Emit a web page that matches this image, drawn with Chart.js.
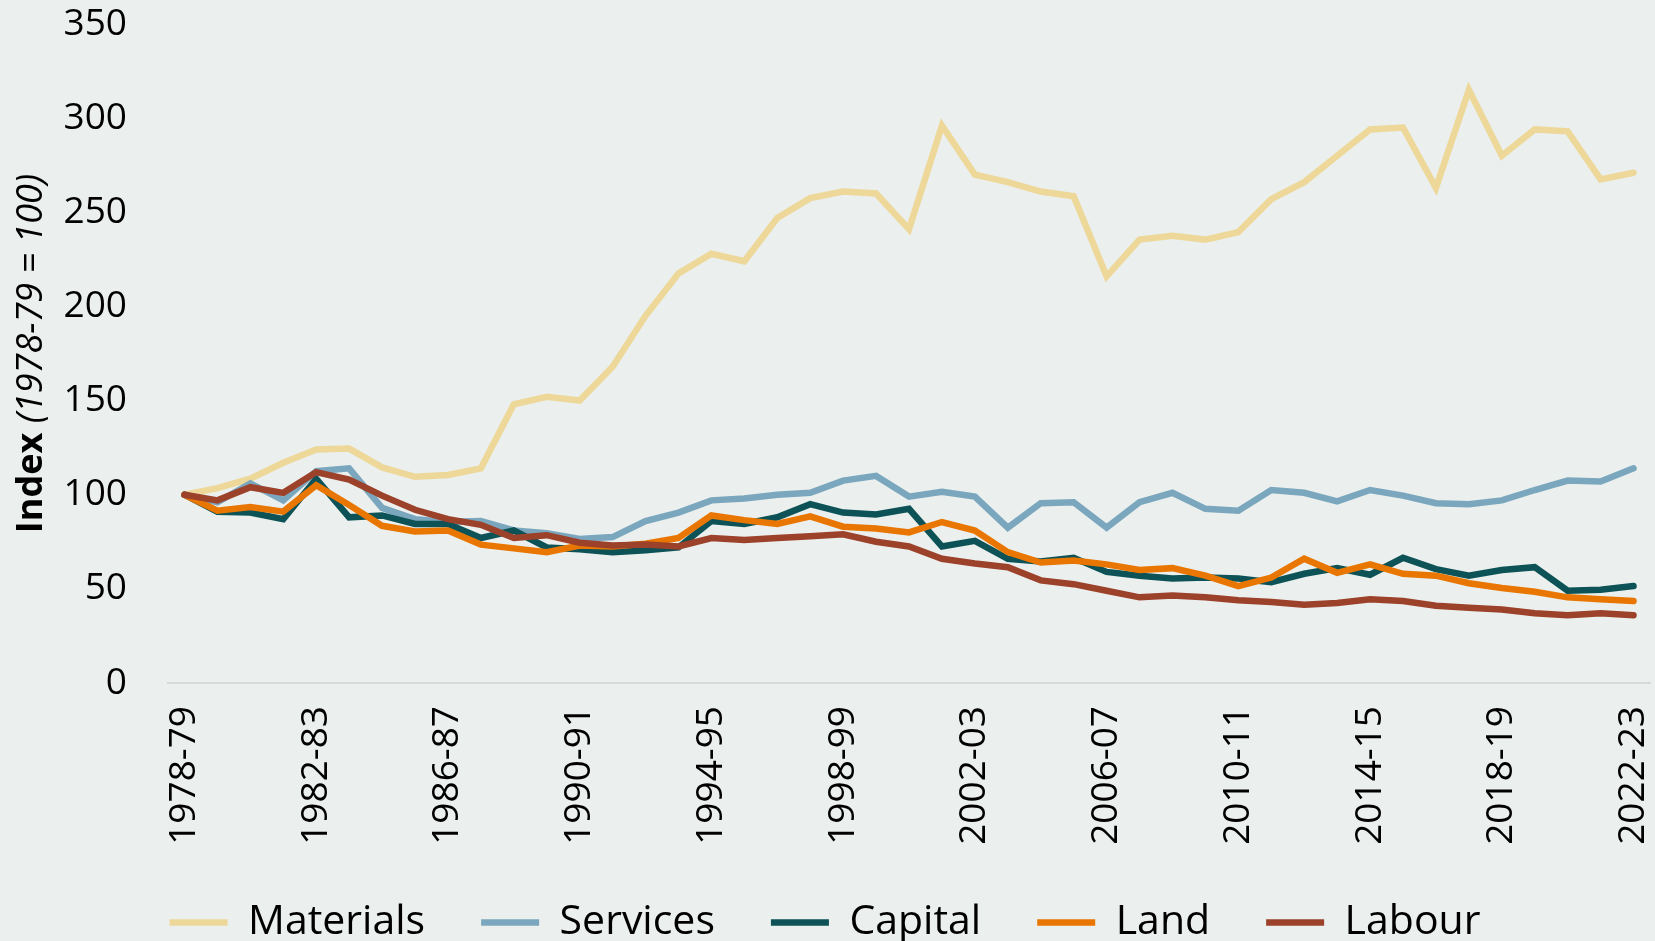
<!DOCTYPE html>
<html>
<head>
<meta charset="utf-8">
<script src="https://cdn.jsdelivr.net/npm/chart.js@4/dist/chart.umd.min.js"></script>
<style>
  html, body { margin: 0; padding: 0; background: #EBEFED; }
  #chart { display: block; }
</style>
</head>
<body>
<canvas id="chart" width="1655" height="941"></canvas>
<script>
const years = ['1978-79', '1979-80', '1980-81', '1981-82', '1982-83', '1983-84', '1984-85', '1985-86',
  '1986-87', '1987-88', '1988-89', '1989-90', '1990-91', '1991-92', '1992-93', '1993-94', '1994-95',
  '1995-96', '1996-97', '1997-98', '1998-99', '1999-00', '2000-01', '2001-02', '2002-03', '2003-04',
  '2004-05', '2005-06', '2006-07', '2007-08', '2008-09', '2009-10', '2010-11', '2011-12', '2012-13',
  '2013-14', '2014-15', '2015-16', '2016-17', '2017-18', '2018-19', '2019-20', '2020-21', '2021-22', '2022-23'];

const materials = [100, 103.5, 108.5, 117, 124, 124.5, 114.5, 109.5, 110.5, 114, 148, 152, 150, 168, 195,
  217.5, 228, 224, 247, 257.5, 261, 260, 241, 296, 270, 266, 261, 258.5, 216, 235.5, 237.5, 235.5, 239.5,
  257, 266, 280, 294, 295, 263, 315, 280, 294, 293, 267.5, 271];
const services = [100, 96, 106, 97, 112.5, 114, 93, 87, 85.5, 86, 81, 79.5, 76.5, 77.5, 86, 90.5, 97, 98,
  100, 101, 107.5, 110, 99, 101.5, 99, 82.5, 95.5, 96, 82.5, 96, 101, 92.5, 91.5, 102.5, 101, 96.5, 102.5,
  99.5, 95.5, 95, 97, 102.5, 107.5, 107, 114];
const capital = [100, 91, 90.5, 87, 108.5, 88, 89, 84.5, 84.5, 77, 81, 72, 71, 69.5, 70.5, 72, 86, 84.5, 88,
  95, 90.5, 89.5, 92.5, 72.5, 75.5, 66, 64.5, 66.5, 59, 57, 55.5, 56, 55.5, 53.5, 58, 61, 57.5, 66.5, 60.5,
  57, 60, 61.5, 49, 49.5, 51.5];
const land = [100, 91.5, 93.5, 91, 105, 94.5, 83.5, 80.5, 81, 73.5, 71.5, 69.5, 73, 72.5, 74, 77, 89, 86.5,
  84.5, 88.5, 83, 82, 80, 85.5, 81, 69.5, 64, 65, 63, 60, 61, 57, 51.5, 56, 66, 58.5, 63, 58, 57, 53, 50.5,
  48.5, 45.5, 44.5, 43.5];
const labour = [100, 97, 104, 101, 112, 108, 99.5, 92, 87, 84, 77, 78.5, 74.5, 73, 73.5, 72.5, 77, 76, 77, 78,
  79, 75, 72.5, 66, 63.5, 61.5, 54.5, 52.5, 49, 45.5, 46.5, 45.5, 44, 43, 41.5, 42.5, 44.5, 43.5, 41, 40, 39,
  37, 36, 37, 36];

const yTicks = [0, 50, 100, 150, 200, 250, 300, 350];

const FONT = '"Open Sans", "Noto Sans", sans-serif';

// y axis title: "Index" bold, the rest italic, like the original
const yTitle = {
  id: 'yTitle',
  afterDraw(chart) {
    const { ctx, chartArea } = chart;
    const bold = 'Index ';
    const italic = '(1978-79 = 100)';
    ctx.save();
    ctx.translate(32, (chartArea.top + chartArea.bottom) / 2);
    ctx.rotate(-Math.PI / 2);
    ctx.fillStyle = '#000';
    ctx.textBaseline = 'middle';
    ctx.textAlign = 'left';
    ctx.font = 'bold 36px ' + FONT;
    const w1 = ctx.measureText(bold).width;
    ctx.font = 'italic 36px ' + FONT;
    const w2 = ctx.measureText(italic).width;
    const x0 = -(w1 + w2) / 2;
    ctx.font = 'bold 36px ' + FONT;
    ctx.fillText(bold, x0, 0);
    ctx.font = 'italic 36px ' + FONT;
    ctx.fillText(italic, x0 + w1, 0);
    ctx.restore();
  }
};

function series(label, data, color, order) {
  return {
    label: label,
    data: data,
    borderColor: color,
    backgroundColor: color,
    borderWidth: 6.5,
    borderCapStyle: 'round',
    borderJoinStyle: 'miter',
    pointRadius: 0,
    fill: false,
    tension: 0,
    order: order
  };
}

const ctx = document.getElementById('chart').getContext('2d');
const chart = new Chart(ctx, {
  type: 'line',
  data: {
    labels: years,
    datasets: [
      series('Materials', materials, '#EDD89A', 5),
      series('Services', services, '#7BA7BE', 4),
      series('Capital', capital, '#0C5256', 3),
      series('Land', land, '#E87600', 2),
      series('Labour', labour, '#9C412A', 1)
    ]
  },
  options: {
    responsive: false,
    animation: false,
    layout: { padding: { top: 24, right: 5, left: 0, bottom: -12 } },
    plugins: {
      tooltip: { enabled: false },
      legend: {
        position: 'bottom',
        labels: {
          usePointStyle: true,
          pointStyle: 'line',
          pointStyleWidth: 58,
          padding: 56,
          color: '#000',
          font: { family: FONT, size: 41 },
          sort: (a, b) => a.datasetIndex - b.datasetIndex
        }
      }
    },
    scales: {
      x: {
        offset: true,
        grid: { display: false },
        border: { display: true, color: '#D9D9D9', width: 2 },
        ticks: {
          autoSkip: false,
          maxRotation: 90,
          minRotation: 90,
          padding: 15,
          color: '#000',
          font: { family: FONT, size: 37 },
          callback: (v, i) => (i % 4 === 0 ? years[i] : '')
        },
        afterFit: (s) => {
          s.height = 163;
          s.paddingLeft = 0;
          s.paddingRight = 0;
        }
      },
      y: {
        min: 0,
        max: 350,
        afterBuildTicks: (s) => { s.ticks = yTicks.map((v) => ({ value: v })); },
        grid: { display: false },
        border: { display: false },
        ticks: {
          padding: 33,
          color: '#000',
          font: { family: FONT, size: 37 }
        },
        afterFit: (s) => {
          s.width = 168;
          s.paddingTop = 0;
          s.paddingBottom = 0;
        }
      }
    }
  },
  plugins: [yTitle]
});
</script>
</body>
</html>
